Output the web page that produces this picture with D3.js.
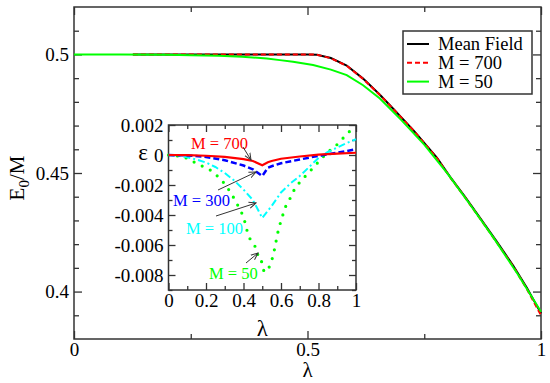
<!DOCTYPE html>
<html>
<head>
<meta charset="UTF-8">
<title>E0/M vs lambda</title>
<style>
  body { margin: 0; background: #fff; }
  .axis path { display: none; }
  .axis line { stroke: #333; stroke-width: 1.3px; }
  .frame { fill: none; stroke: #333; stroke-width: 1.5px; }
</style>
</head>
<body>
<div id="chart"></div>
<script src="https://cdnjs.cloudflare.com/ajax/libs/d3/7.8.5/d3.min.js"></script>
<script>
// main panel: ground state energy per particle
const mfLambda = [0.126, 0.2, 0.3, 0.4, 0.5, 0.52, 0.55, 0.584, 0.619, 0.655, 0.684, 0.727, 0.777, 0.805, 0.837, 0.869, 0.905, 0.941, 0.97, 1.0];
const mfE      = [0.5, 0.5, 0.5, 0.5, 0.5, 0.4999, 0.4985, 0.4953, 0.4898, 0.4830, 0.4770, 0.4680, 0.4565, 0.4485, 0.4400, 0.4312, 0.4212, 0.4108, 0.4015, 0.3908];
const m700E    = [0.5, 0.5, 0.5, 0.5, 0.5, 0.4999, 0.4984, 0.4952, 0.4897, 0.4829, 0.4769, 0.4679, 0.4563, 0.4483, 0.4398, 0.4309, 0.4208, 0.4104, 0.4010, 0.3900];
const m50Lambda = [0, 0.1, 0.2, 0.25, 0.31, 0.36, 0.413, 0.441, 0.469, 0.512, 0.55, 0.584, 0.619, 0.655, 0.7, 0.75, 0.8, 0.85, 0.9, 0.95, 1.0];
const m50E      = [0.5, 0.5, 0.4999, 0.4997, 0.4994, 0.499, 0.4983, 0.4976, 0.4969, 0.4955, 0.4936, 0.4913, 0.4870, 0.4814, 0.4725, 0.4620, 0.4497, 0.4362, 0.4222, 0.4074, 0.3915];

// inset: relative error epsilon
const insLambda = [0, 0.1, 0.2, 0.3, 0.4, 0.45, 0.5, 0.53, 0.55, 0.6, 0.7, 0.8, 0.9, 1.0];
const eps700 = [0, -0.00001, -0.00005, -0.00013, -0.00027, -0.0004, -0.00068, -0.00048, -0.0004, -0.00025, -0.0001, 0.00002, 0.00009, 0.00015];
const eps300 = [0, -0.00003, -0.00013, -0.00035, -0.0007, -0.00095, -0.0014, -0.00085, -0.00075, -0.00055, -0.0003, -0.00005, 0.00015, 0.00038];
const cyLambda = [0, 0.05, 0.1, 0.15, 0.2, 0.25, 0.3, 0.35, 0.4, 0.45, 0.5, 0.55, 0.6, 0.65, 0.7, 0.75, 0.8, 0.85, 0.9, 0.95, 1.0];
const eps100   = [0, -0.00005, -0.00015, -0.0003, -0.0005, -0.0008, -0.0012, -0.0017, -0.0023, -0.003, -0.0042, -0.0034, -0.0025, -0.0019, -0.0014, -0.0008, -0.0002, 0.0002, 0.0005, 0.0008, 0.00105];
const gLambda = [0, 0.08, 0.133, 0.222, 0.275, 0.311, 0.355, 0.4, 0.418, 0.435, 0.462, 0.471, 0.489, 0.498, 0.51, 0.533, 0.545, 0.559, 0.568, 0.586, 0.595, 0.622, 0.648, 0.675, 0.71, 0.746, 0.8, 0.826, 0.852, 0.888, 0.959, 1.0];
const eps50   = [0, -0.00011, -0.00045, -0.001, -0.00155, -0.0021, -0.003, -0.0041, -0.005, -0.0056, -0.0061, -0.0066, -0.0067, -0.0072, -0.0078, -0.0076, -0.0072, -0.0067, -0.0061, -0.005, -0.0046, -0.0035, -0.0029, -0.0022, -0.00167, -0.0012, -0.00045, -0.00011, 0.00022, 0.00055, 0.0015, 0.0019];

const mainXTicks = [0, 0.5, 1];
const mainYTicks = [0.4, 0.45, 0.5];
const insXTicks = [0, 0.2, 0.4, 0.6, 0.8, 1];
const insYTicks = [0.002, 0, -0.002, -0.004, -0.006, -0.008];

const legendNames = ['Mean Field', 'M = 700', 'M = 50'];

const FONT = "'Liberation Serif', 'Times New Roman', Times, 'DejaVu Serif', serif";
const W = 550, H = 383;
const svg = d3.select('#chart').append('svg').attr('width', W).attr('height', H)
  .attr('font-family', FONT);

// ---------- main panel ----------
const x = d3.scaleLinear().domain([0, 1]).range([74, 541]);
const y = d3.scaleLinear().domain([0.38, 0.52]).range([339, 7]);

function fmt(v) { return v === 0 ? '0' : String(+v.toFixed(3)); }

function drawAxes(g, xs, ys, xMajor, xMinor, yMajor, yMinor, maj, min) {
  const [x0, x1] = xs.range(), [y0, y1] = ys.range();
  // bottom
  g.append('g').attr('class', 'axis').attr('transform', `translate(0,${y0})`)
    .call(d3.axisBottom(xs).tickValues(xMajor).tickSize(-maj).tickPadding(4).tickFormat(fmt));
  g.append('g').attr('class', 'axis').attr('transform', `translate(0,${y0})`)
    .call(d3.axisBottom(xs).tickValues(xMinor).tickSize(-min).tickFormat(''));
  // top
  g.append('g').attr('class', 'axis').attr('transform', `translate(0,${y1})`)
    .call(d3.axisTop(xs).tickValues(xMajor).tickSize(-maj).tickFormat(''));
  g.append('g').attr('class', 'axis').attr('transform', `translate(0,${y1})`)
    .call(d3.axisTop(xs).tickValues(xMinor).tickSize(-min).tickFormat(''));
  // left
  g.append('g').attr('class', 'axis').attr('transform', `translate(${x0},0)`)
    .call(d3.axisLeft(ys).tickValues(yMajor).tickSize(-maj).tickPadding(5).tickFormat(fmt));
  g.append('g').attr('class', 'axis').attr('transform', `translate(${x0},0)`)
    .call(d3.axisLeft(ys).tickValues(yMinor).tickSize(-min).tickFormat(''));
  // right
  g.append('g').attr('class', 'axis').attr('transform', `translate(${x1},0)`)
    .call(d3.axisRight(ys).tickValues(yMajor).tickSize(-maj).tickFormat(''));
  g.append('g').attr('class', 'axis').attr('transform', `translate(${x1},0)`)
    .call(d3.axisRight(ys).tickValues(yMinor).tickSize(-min).tickFormat(''));
  g.selectAll('.axis').attr('font-family', FONT).attr('font-size', 19);
  g.append('rect').attr('class', 'frame')
    .attr('x', x0).attr('y', y1).attr('width', x1 - x0).attr('height', y0 - y1);
}

const main = svg.append('g');
drawAxes(main, x, y, mainXTicks, [0.25, 0.75], mainYTicks,
  [0.39, 0.41, 0.42, 0.43, 0.44, 0.46, 0.47, 0.48, 0.49, 0.51], 8, 5);

const line = d3.line().x(d => x(d[0])).y(d => y(d[1]));
main.append('path').datum(d3.zip(mfLambda, mfE)).attr('d', line)
  .attr('fill', 'none').attr('stroke', '#000').attr('stroke-width', 2);
main.append('path').datum(d3.zip(mfLambda, m700E)).attr('d', line)
  .attr('fill', 'none').attr('stroke', '#ff0000').attr('stroke-width', 2).attr('stroke-dasharray', '5 3');
main.append('path').datum(d3.zip(m50Lambda, m50E)).attr('d', line)
  .attr('fill', 'none').attr('stroke', '#00ff00').attr('stroke-width', 2);

// axis labels
svg.append('text').attr('x', x(0.5)).attr('y', 377).attr('text-anchor', 'middle')
  .attr('font-size', 21).text('λ');
const yl = svg.append('text').attr('transform', 'translate(24,178) rotate(-90)')
  .attr('text-anchor', 'middle').attr('font-size', 21);
yl.append('tspan').text('E');
yl.append('tspan').attr('dy', 5).attr('font-size', 15).text('0');
yl.append('tspan').attr('dy', -5).text('/M');

// legend
const leg = svg.append('g');
leg.append('rect').attr('x', 403).attr('y', 31).attr('width', 129).attr('height', 63)
  .attr('fill', '#fff').attr('stroke', '#333').attr('stroke-width', 1.5);
const legStyles = [
  { c: '#000', d: null }, { c: '#ff0000', d: '5 3' }, { c: '#00ff00', d: null }
];
legendNames.forEach((n, i) => {
  const cy = 44 + i * 18.8;
  leg.append('line').attr('x1', 407).attr('x2', 429).attr('y1', cy).attr('y2', cy)
    .attr('stroke', legStyles[i].c).attr('stroke-width', 2).attr('stroke-dasharray', legStyles[i].d);
  leg.append('text').attr('x', 438).attr('y', cy + 6).attr('font-size', 18.5).text(n);
});

// ---------- inset ----------
const ix = d3.scaleLinear().domain([0, 1]).range([168.5, 356]);
const iy = d3.scaleLinear().domain([-0.009, 0.002]).range([290, 125]);

const ins = svg.append('g');
ins.append('rect').attr('x', 168.5).attr('y', 125).attr('width', 187.5).attr('height', 165).attr('fill', '#fff');
drawAxes(ins, ix, iy, insXTicks, [0.1, 0.3, 0.5, 0.7, 0.9], insYTicks,
  [0.001, -0.001, -0.003, -0.005, -0.007, -0.009], 7, 4);

const iline = d3.line().x(d => ix(d[0])).y(d => iy(d[1]));
ins.append('path').datum(d3.zip(gLambda, eps50)).attr('d', iline)
  .attr('fill', 'none').attr('stroke', '#00ff00').attr('stroke-width', 3.2)
  .attr('stroke-linecap', 'round').attr('stroke-dasharray', '0 9');
ins.append('path').datum(d3.zip(cyLambda, eps100)).attr('d', iline)
  .attr('fill', 'none').attr('stroke', '#00ffff').attr('stroke-width', 2)
  .attr('stroke-dasharray', '7 3 2 3');
ins.append('path').datum(d3.zip(insLambda, eps300)).attr('d', iline)
  .attr('fill', 'none').attr('stroke', '#0000ff').attr('stroke-width', 2.5)
  .attr('stroke-dasharray', '6 3');
ins.append('path').datum(d3.zip(insLambda, eps700)).attr('d', iline)
  .attr('fill', 'none').attr('stroke', '#ff0000').attr('stroke-width', 2.2);

svg.append('text').attr('x', 143).attr('y', 160).attr('text-anchor', 'middle')
  .attr('font-size', 23).text('ε');
svg.append('text').attr('x', ix(0.5)).attr('y', 336).attr('text-anchor', 'middle')
  .attr('font-size', 23).text('λ');

// annotations with arrows
svg.append('defs').append('marker').attr('id', 'arr')
  .attr('viewBox', '0 0 8 8').attr('refX', 7).attr('refY', 4)
  .attr('markerWidth', 8).attr('markerHeight', 8).attr('orient', 'auto')
  .attr('markerUnits', 'userSpaceOnUse')
  .append('path').attr('d', 'M0,1 L7,4 L0,7').attr('fill', 'none').attr('stroke', '#333').attr('stroke-width', 1);

const notes = [
  { t: 'M = 700', c: '#ff0000', tx: 191, ty: 149, a: [243, 147, 251, 160] },
  { t: 'M = 300', c: '#0000ff', tx: 173, ty: 206, a: [218, 190, 256, 172] },
  { t: 'M = 100', c: '#00ffff', tx: 186, ty: 234, a: [216, 216, 256, 203] },
  { t: 'M = 50',  c: '#00ff00', tx: 209, ty: 279, a: [246, 263, 258, 253] }
];
notes.forEach(n => {
  svg.append('text').attr('x', n.tx).attr('y', n.ty).attr('font-size', 16.5)
    .attr('fill', n.c).text(n.t);
  svg.append('line').attr('x1', n.a[0]).attr('y1', n.a[1]).attr('x2', n.a[2]).attr('y2', n.a[3])
    .attr('stroke', '#333').attr('stroke-width', 1).attr('marker-end', 'url(#arr)');
});
</script>
</body>
</html>
